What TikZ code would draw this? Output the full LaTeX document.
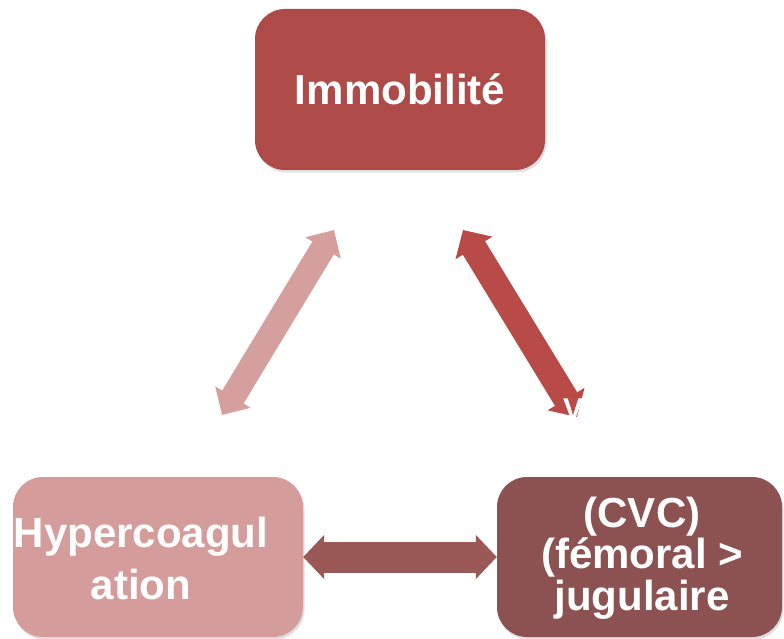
\documentclass[tikz,border=0pt]{standalone}
\usepackage{fontspec}
\setmainfont{Liberation Sans}
\usepackage{xcolor}
\usetikzlibrary{positioning,calc,arrows.meta,shadows}

\definecolor{immored}{HTML}{AE4A48}
\definecolor{hyperpink}{HTML}{D49C9A}
\definecolor{cvcbrown}{HTML}{8B5251}
\definecolor{arrowpink}{HTML}{D59F9D}
\definecolor{arrowred}{HTML}{B84B48}
\definecolor{arrowbrown}{HTML}{9A5957}

\tikzset{
  box/.style={rounded corners=30pt, minimum height=160pt, inner sep=0pt,
    drop shadow={shadow xshift=1.5pt, shadow yshift=-2.5pt, opacity=0.25}},
  boxtext/.style={text=white, align=center, inner sep=0pt},
  fatarrow/.style n args={2}{line width=#1,
    {Triangle[length=21pt,width=#2]}-{Triangle[length=21pt,width=#2]}},
}

\begin{document}
\begin{tikzpicture}[x=1pt,y=-1pt]
    \useasboundingbox (0,0) rectangle (784,639);

    % Boxes
    \node[box, fill=immored, minimum width=290pt, minimum height=161pt] (immo) at (400,89.5) {};
    \node[box, fill=hyperpink, minimum width=290pt] (hyp) at (158,557) {};
    \node[box, fill=cvcbrown, minimum width=285pt] (cvc) at (639.5,557) {};

    % Labels
    \node[boxtext, font=\fontsize{42}{50}\selectfont\bfseries] (immotxt) at (400,89) {Immobilité};
    \node[boxtext, font=\fontsize{42}{52}\selectfont\bfseries] (hyptxt) at (141,558) {Hypercoagul\\ation};
    \node[boxtext, font=\fontsize{42}{41.5}\selectfont\bfseries] (cvctxt) at (642,558) {(CVC)\\(fémoral >\\jugulaire};

    % Arrow ends
    \coordinate (lefttop) at (334,230);
    \coordinate (leftbot) at (222,415);
    \coordinate (righttop) at (463,230);
    \coordinate (rightbot) at (577,417);

    % Double arrows
    \draw[fatarrow={25pt}{40pt}, arrowpink] (leftbot) -- (lefttop);
    \draw[fatarrow={26pt}{42pt}, arrowred] (righttop) -- (rightbot);
    \draw[fatarrow={31pt}{43pt}, arrowbrown] (hyp.east) -- (cvc.west);

    \node[text=white, inner sep=0pt, font=\fontsize{30}{30}\selectfont\bfseries] (vmark) at (573,409) {V};
\end{tikzpicture}
\end{document}
